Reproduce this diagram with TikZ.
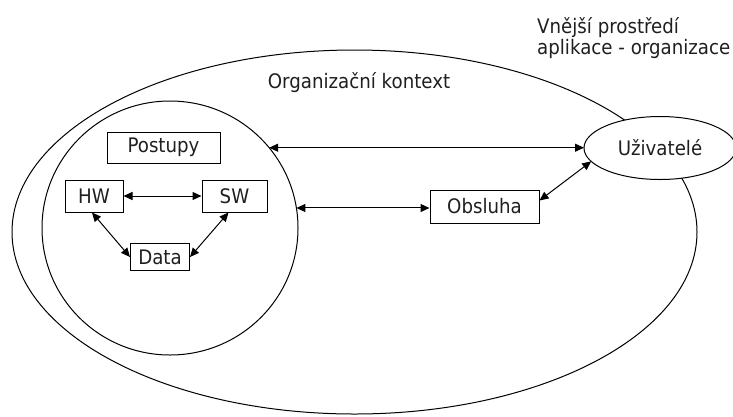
\documentclass[tikz,border=0pt]{standalone}
\usepackage{fontspec}
\setmainfont{DejaVu Sans}[FakeStretch=0.91]
\usetikzlibrary{shapes.geometric,arrows.meta}
\begin{document}
\begin{tikzpicture}[x=1pt,y=-1pt,
  every node/.style={font=\fontsize{20}{22}\selectfont, text=black!88},
  boxnode/.style={draw, line width=1pt, inner sep=0pt},
  ovalnode/.style={draw, ellipse, line width=1pt, inner sep=0pt, outer sep=0pt},
  conn/.style={line width=1pt, {Triangle[length=9pt,width=8pt]}-{Triangle[length=9pt,width=8pt]}},
  lbl/.style={inner sep=0pt}
]
\useasboundingbox (0,0) rectangle (733,416);
\node[ovalnode, minimum width=685pt, minimum height=364pt] (outer) at (354.5,232) {};
\node[ovalnode, minimum width=256pt, minimum height=254pt] (inner) at (170,228) {};
\node[ovalnode, fill=white, minimum width=152pt, minimum height=63pt] (uziv) at (660,148) {Uživatelé};

\node[lbl] (org) at (359,83) {Organizační kontext};
\node[lbl, anchor=base west] (ext1) at (537,33) {Vnější prostředí};
\node[lbl, anchor=base west] (ext2) at (537,54) {aplikace - organizace};

\node[boxnode, minimum width=113pt, minimum height=31pt] (post) at (163.5,147.5) {Postupy};
\node[boxnode, minimum width=58pt, minimum height=32pt] (hw) at (94,196) {HW};
\node[boxnode, minimum width=65pt, minimum height=32pt] (sw) at (234.5,196) {SW};
\node[boxnode, minimum width=59pt, minimum height=27pt] (data) at (160,257) {Data};
\node[boxnode, minimum width=109pt, minimum height=33pt] (obs) at (484.5,206.5) {Obsluha};

\draw[conn] (hw) -- (sw);
\draw[conn] ([xshift=-2pt]hw.south) -- (data.west);
\draw[conn] ([xshift=-6pt]sw.south) -- (data.east);
\draw[conn] (inner.39) -- (inner.39 -| uziv.west);
\draw[conn] (inner.9) -- (inner.9 -| obs.west);
\draw[conn] ([yshift=6pt]obs.east) -- (uziv.191);
\end{tikzpicture}
\end{document}
